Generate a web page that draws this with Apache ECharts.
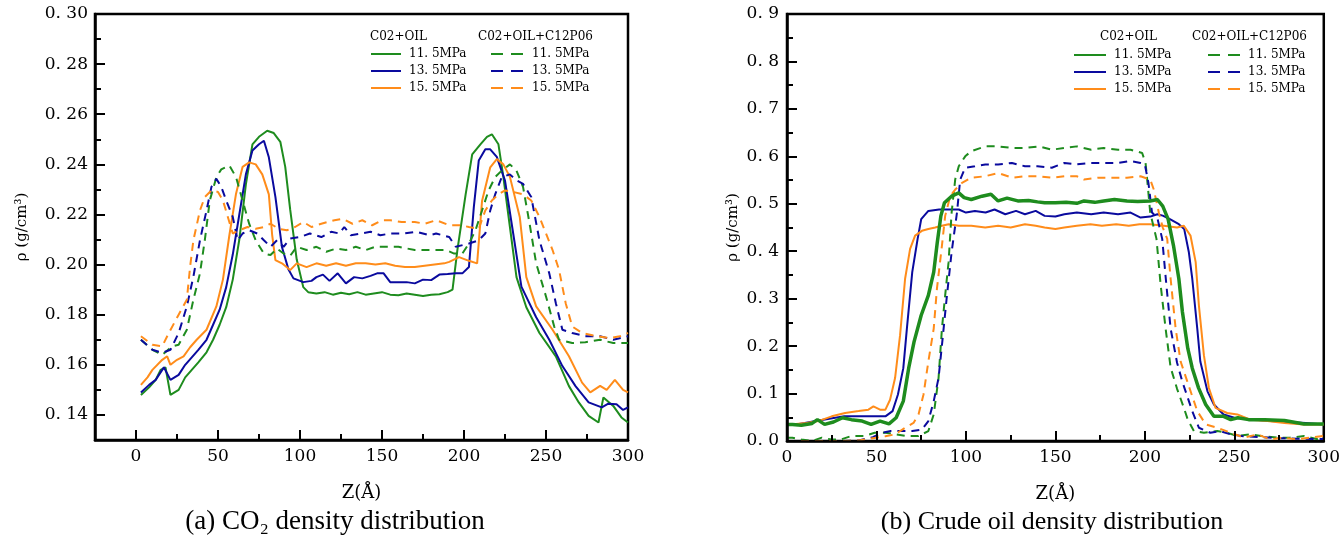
<!DOCTYPE html>
<html><head><meta charset="utf-8">
<script src="https://cdn.jsdelivr.net/npm/echarts@6/dist/echarts.min.js"></script>
<style>html,body{margin:0;padding:0;background:#fff}#c{width:1343px;height:541px}</style>
</head><body><div id="c"></div>
<script>
// ---------- (a) CO2 density, pairs [Z(Å), rho] ----------
const co2Oil115 = [[3,0.148],[8,0.151],[12,0.154],[15,0.158],[18,0.159],[21,0.148],[26,0.150],[30,0.155],[34,0.158],[38,0.161],[43,0.165],[47,0.170],[51,0.176],[55,0.183],[59,0.194],[63,0.210],[67,0.232],[71,0.248],[75,0.251],[80,0.2534],[84,0.2525],[88,0.249],[91,0.239],[94,0.222],[98,0.202],[102,0.191],[105,0.189],[110,0.1885],[115,0.189],[120,0.188],[125,0.1888],[130,0.1882],[135,0.189],[140,0.188],[145,0.1885],[150,0.189],[155,0.188],[160,0.1878],[165,0.1885],[170,0.188],[175,0.1875],[180,0.188],[185,0.1882],[190,0.189],[193,0.190],[196,0.206],[201,0.228],[205,0.244],[210,0.248],[214,0.251],[217,0.252],[221,0.248],[224,0.235],[228,0.215],[232,0.195],[238,0.183],[246,0.1727],[256,0.1634],[264,0.1515],[270,0.145],[276,0.1396],[282,0.137],[285,0.147],[291,0.1436],[296,0.139],[300,0.137]];
const co2Oil135 = [[3,0.149],[8,0.152],[12,0.154],[17,0.159],[21,0.154],[26,0.156],[30,0.160],[34,0.163],[38,0.166],[43,0.170],[47,0.176],[51,0.182],[55,0.191],[59,0.204],[63,0.220],[67,0.236],[71,0.2455],[75,0.248],[78,0.2494],[81,0.2428],[85,0.227],[89,0.207],[93,0.198],[96,0.1945],[102,0.193],[107,0.1935],[110,0.195],[114,0.196],[118,0.1935],[123,0.1965],[128,0.1925],[133,0.195],[138,0.1945],[143,0.1955],[147,0.1965],[151,0.1965],[155,0.193],[160,0.193],[165,0.193],[170,0.1925],[175,0.194],[180,0.1938],[185,0.196],[190,0.1962],[195,0.1965],[199,0.1965],[203,0.199],[206,0.223],[209,0.2415],[213,0.246],[216,0.246],[220,0.243],[225,0.2335],[230,0.2124],[235,0.1912],[244,0.179],[252,0.170],[260,0.1595],[268,0.1515],[276,0.145],[284,0.143],[288,0.1445],[293,0.1443],[297,0.142],[300,0.143]];
const co2Oil155 = [[3,0.152],[7,0.155],[10,0.158],[16,0.162],[19,0.1634],[21,0.160],[25,0.162],[29,0.1634],[33,0.167],[37,0.170],[43,0.174],[49,0.1833],[53,0.194],[57,0.212],[61,0.2283],[65,0.239],[69,0.2408],[73,0.240],[77,0.236],[81,0.228],[83,0.212],[85,0.2018],[89,0.2005],[94,0.1978],[98,0.2005],[104,0.199],[110,0.2005],[116,0.1995],[122,0.2005],[128,0.1995],[134,0.2005],[140,0.2005],[146,0.200],[152,0.2005],[158,0.1995],[164,0.199],[170,0.199],[176,0.1995],[182,0.200],[188,0.2005],[191,0.2011],[197,0.203],[203,0.2015],[208,0.2005],[211,0.2254],[216,0.2388],[220,0.2421],[224,0.240],[228,0.235],[234,0.219],[238,0.195],[244,0.1833],[254,0.174],[264,0.1634],[272,0.1529],[277,0.149],[283,0.1516],[287,0.150],[292,0.154],[297,0.150],[300,0.149]];
const co2Surf115 = [[3,0.170],[10,0.166],[16,0.164],[22,0.1674],[26,0.168],[31,0.174],[35,0.186],[39,0.1965],[42,0.210],[45,0.2256],[49,0.2349],[52,0.238],[57,0.2395],[61,0.2349],[65,0.2256],[69,0.2163],[73,0.2097],[78,0.2044],[82,0.2038],[86,0.2064],[90,0.2044],[94,0.2035],[98,0.2071],[104,0.2058],[110,0.2071],[116,0.2051],[122,0.2064],[128,0.2058],[134,0.2071],[140,0.2058],[146,0.2071],[152,0.2071],[160,0.2071],[170,0.2058],[180,0.2058],[189,0.2058],[194,0.2044],[199,0.2044],[203,0.2084],[207,0.2137],[211,0.2216],[215,0.2296],[219,0.2349],[223,0.2375],[228,0.240],[232,0.2375],[236,0.231],[240,0.2163],[244,0.2005],[250,0.1873],[255,0.1753],[258,0.170],[266,0.1687],[274,0.169],[283,0.170],[291,0.1687],[300,0.1687]];
const co2Surf135 = [[3,0.170],[10,0.166],[16,0.1648],[21,0.166],[26,0.1727],[31,0.1833],[35,0.1952],[39,0.2097],[43,0.2216],[46,0.231],[49,0.2342],[52,0.231],[55,0.2256],[59,0.219],[62,0.2097],[65,0.2124],[69,0.2137],[74,0.2124],[78,0.2097],[82,0.2071],[86,0.2097],[90,0.2071],[94,0.2104],[100,0.211],[106,0.2124],[113,0.211],[119,0.2131],[124,0.2124],[127,0.215],[131,0.2117],[137,0.2124],[143,0.2131],[149,0.2117],[155,0.2124],[163,0.2124],[171,0.2131],[179,0.2117],[183,0.2124],[191,0.211],[195,0.2071],[203,0.2084],[209,0.2097],[213,0.2124],[216,0.2216],[219,0.228],[223,0.2349],[228,0.236],[232,0.2336],[236,0.2322],[241,0.227],[246,0.2097],[252,0.1965],[256,0.1846],[260,0.174],[266,0.1727],[274,0.1714],[283,0.1714],[291,0.170],[300,0.1714]];
const co2Surf155 = [[3,0.1714],[10,0.168],[16,0.1674],[20,0.1727],[26,0.180],[31,0.186],[33,0.1992],[35,0.2097],[39,0.2216],[42,0.227],[46,0.2296],[50,0.229],[53,0.2256],[56,0.219],[59,0.2124],[63,0.2137],[68,0.215],[73,0.2143],[78,0.215],[82,0.2163],[87,0.2143],[92,0.2137],[97,0.215],[102,0.217],[107,0.215],[113,0.2163],[121,0.2177],[126,0.2183],[132,0.2163],[138,0.2177],[144,0.2157],[150,0.2177],[155,0.2177],[162,0.217],[170,0.217],[176,0.2163],[183,0.2177],[191,0.2157],[198,0.2157],[203,0.215],[209,0.2143],[213,0.2216],[217,0.2256],[221,0.228],[225,0.2296],[230,0.229],[236,0.228],[241,0.2256],[246,0.219],[250,0.2124],[254,0.2058],[258,0.1978],[262,0.1846],[266,0.1753],[272,0.1727],[281,0.1714],[289,0.1707],[295,0.1714],[300,0.1727]];

// ---------- (b) Crude oil density ----------
const oil115 = [[0,0.035],[3,0.035],[8,0.033],[14,0.037],[17,0.045],[21,0.035],[26,0.040],[31,0.049],[36,0.045],[42,0.042],[47,0.035],[52,0.042],[57,0.036],[61,0.049],[65,0.084],[68,0.1535],[71,0.209],[75,0.265],[79,0.307],[82,0.356],[84,0.419],[86,0.4745],[88,0.502],[92,0.516],[96,0.523],[99,0.513],[103,0.509],[109,0.516],[114,0.520],[118,0.506],[123,0.512],[129,0.506],[135,0.507],[140,0.504],[144,0.502],[150,0.502],[156,0.503],[162,0.501],[166,0.506],[172,0.503],[177,0.506],[183,0.509],[190,0.506],[196,0.505],[203,0.506],[207,0.509],[210,0.495],[213,0.4675],[216,0.412],[219,0.342],[221,0.272],[224,0.195],[226.5,0.1535],[230,0.112],[234,0.077],[238.6,0.052],[244,0.052],[248,0.045],[252,0.049],[258,0.045],[267,0.045],[278,0.043],[289,0.036],[300,0.036]];
const oil135 = [[0,0.035],[5,0.035],[10,0.038],[16,0.042],[22,0.046],[27,0.049],[32,0.052],[40,0.052],[47,0.052],[55,0.052],[59,0.063],[62,0.098],[65,0.1535],[67,0.237],[70,0.356],[73,0.426],[75,0.4675],[79,0.485],[85,0.488],[90,0.488],[96,0.488],[100,0.4815],[105,0.485],[111,0.4815],[116,0.488],[122,0.478],[128,0.485],[133,0.478],[139,0.485],[144,0.4745],[150,0.473],[155,0.478],[162,0.4815],[170,0.478],[177,0.4815],[185,0.478],[192,0.4815],[197.6,0.471],[203,0.473],[207,0.478],[210,0.475],[214,0.4675],[219,0.457],[222,0.4466],[224.6,0.3977],[226.5,0.342],[229.3,0.237],[231,0.1675],[235,0.1047],[238.6,0.077],[244,0.056],[250,0.049],[256,0.047],[262,0.045],[270,0.042],[280,0.040],[290,0.038],[300,0.035]];
const oil155 = [[0,0.035],[5,0.036],[11,0.038],[17.5,0.042],[25,0.052],[32.5,0.059],[40,0.063],[45.5,0.066],[48.3,0.073],[52,0.066],[55,0.066],[57.6,0.087],[60.4,0.1326],[63.2,0.223],[66,0.342],[68.8,0.405],[71.6,0.433],[75.4,0.443],[79,0.447],[82.8,0.450],[86.6,0.4536],[90.3,0.457],[96,0.4536],[103,0.4536],[110.8,0.450],[118,0.4536],[125,0.450],[133,0.457],[139,0.4536],[144,0.450],[150,0.447],[155,0.450],[162,0.4536],[169.6,0.457],[176,0.4536],[184,0.457],[191,0.4536],[197,0.457],[203,0.457],[210.6,0.4536],[218,0.450],[221.8,0.4536],[225.5,0.433],[228.4,0.377],[230.2,0.286],[233,0.181],[235.8,0.1117],[239.5,0.0698],[246,0.059],[251.7,0.056],[259,0.045],[268.5,0.042],[278,0.038],[289,0.035],[300,0.035]];
const oilSurf115 = [[0,0.007],[3,0.007],[8,0.003],[14,0.0],[19.4,0.007],[25,0.003],[30,0.003],[36,0.0105],[43,0.0105],[49,0.0174],[55,0.0174],[61,0.014],[67,0.0105],[73.5,0.0105],[79,0.021],[82,0.056],[84.7,0.1326],[86.6,0.237],[88.4,0.307],[90.3,0.377],[92,0.4815],[94,0.551],[96,0.579],[99.6,0.600],[103,0.611],[110.8,0.621],[118,0.621],[125.7,0.6176],[133,0.6176],[140.7,0.621],[148,0.614],[155,0.6176],[162,0.621],[170,0.614],[177,0.6176],[185,0.614],[192,0.614],[198.5,0.607],[200.4,0.586],[201.3,0.551],[203,0.4815],[206.5,0.426],[208.8,0.33],[211.6,0.237],[214.4,0.155],[218,0.11],[221.8,0.07],[224,0.045],[227.4,0.021],[233,0.0174],[240.5,0.021],[246,0.0174],[251.7,0.0105],[259,0.014],[265,0.0105],[274,0.007],[281,0.007],[289,0.0105],[296.5,0.0035],[300,0.005]];
const oilSurf135 = [[0,0.0],[10,0.0],[20,0.0],[30,0.0],[40,0.001],[48,0.008],[53,0.0174],[58,0.021],[64,0.021],[70,0.021],[75.4,0.024],[79,0.042],[82,0.084],[84.7,0.1326],[86.6,0.202],[89.4,0.307],[92,0.398],[95,0.4815],[96.8,0.551],[99.6,0.576],[105,0.579],[110.8,0.583],[118,0.583],[125.7,0.586],[133,0.579],[140,0.579],[148,0.576],[155,0.586],[162,0.583],[170,0.586],[177,0.586],[185,0.586],[192,0.59],[197.6,0.586],[200,0.583],[202,0.544],[204,0.4815],[207,0.47],[209.7,0.426],[212,0.33],[214.4,0.237],[218,0.165],[220.9,0.1256],[226.5,0.063],[230.2,0.028],[236.6,0.0174],[242,0.021],[248,0.014],[255,0.010],[265,0.008],[275,0.006],[285,0.005],[300,0.004]];
const oilSurf155 = [[0,0.0],[10,0.0],[20,0.0],[30,0.0],[40,0.001],[48,0.006],[55,0.010],[60.4,0.014],[66,0.028],[70.7,0.038],[73.5,0.056],[76.3,0.098],[79,0.1675],[82,0.237],[83.8,0.321],[86.6,0.412],[88.4,0.4745],[91.2,0.516],[94,0.530],[97.8,0.544],[103,0.555],[110.8,0.558],[118,0.565],[125.7,0.555],[133,0.558],[140.7,0.558],[148,0.555],[155,0.558],[162,0.558],[166,0.551],[174,0.555],[181,0.555],[190,0.555],[197.6,0.558],[203,0.551],[205,0.530],[207.8,0.4815],[210,0.45],[212.5,0.426],[214.4,0.342],[217.2,0.237],[220,0.1675],[223.7,0.1256],[229.3,0.063],[234,0.035],[240.5,0.028],[248,0.0174],[255.4,0.007],[263,0.014],[270,0.0035],[277,0.007],[285,0.0035],[292,0.007],[300,0.0105]];

// ---------- ticks / labels ----------
const xMajorA = [0,50,100,150,200,250,300];
const xMinorA = [25,75,125,175,225,275];
const yMajorA = [0.14,0.16,0.18,0.20,0.22,0.24,0.26,0.28,0.30];
const yMinorA = [0.15,0.17,0.19,0.21,0.23,0.25,0.27,0.29];
const pressureLabels = ['11. 5MPa','13. 5MPa','15. 5MPa'];
const groupLabels = ['C02+OIL','C02+OIL+C12P06'];
const captions = ['(a) CO\u2082 density distribution','(b) Crude oil density distribution'];

const GREEN='#1E8C1E', BLUE='#0A0A9E', ORANGE='#FF8C1A';
const NUMFONT='DejaVu Serif';
const DASH=[8,6];
const MAJ=10, MIN=6;

const labelMap = {};
function mk(name, data, xi, yi, color, width, dashed, label){
  labelMap[name]=label;
  return {name, type:'line', xAxisIndex:xi, yAxisIndex:yi, data, symbol:'none', showSymbol:false,
    animation:false, silent:true, color,
    lineStyle:{color, width, type: dashed?DASH:'solid'}, itemStyle:{color}};
}
const series = [
  mk('a_s115',co2Oil115,0,0,GREEN,2,false,pressureLabels[0]),
  mk('a_s135',co2Oil135,0,0,BLUE,2,false,pressureLabels[1]),
  mk('a_s155',co2Oil155,0,0,ORANGE,2,false,pressureLabels[2]),
  mk('a_d115',co2Surf115,0,0,GREEN,2,true,pressureLabels[0]),
  mk('a_d135',co2Surf135,0,0,BLUE,2,true,pressureLabels[1]),
  mk('a_d155',co2Surf155,0,0,ORANGE,2,true,pressureLabels[2]),
  mk('b_s135',oil135,2,2,BLUE,2,false,pressureLabels[1]),
  mk('b_s155',oil155,2,2,ORANGE,2,false,pressureLabels[2]),
  mk('b_d115',oilSurf115,2,2,GREEN,2,true,pressureLabels[0]),
  mk('b_d135',oilSurf135,2,2,BLUE,2,true,pressureLabels[1]),
  mk('b_d155',oilSurf155,2,2,ORANGE,2,true,pressureLabels[2]),
  mk('b_s115',oil115,2,2,GREEN,3.5,false,pressureLabels[0])
];

const axisLineS = {show:true, onZero:false, lineStyle:{color:'#000', width:2.5}};
const tickS = (len, vals) => ({show:true, inside:true, length:len, lineStyle:{color:'#000', width:2}, customValues: vals});
const labS = {color:'#000', fontFamily:NUMFONT, fontSize:17};
const nameS = {color:'#000', fontFamily:NUMFONT, fontSize:18};
const yNameS = {color:'#000', fontFamily:NUMFONT, fontSize:15};

function legend(names, left, top, iw, dashed){
  const l = {data:names, orient:'vertical', left, top, padding:0, itemWidth:iw, itemHeight:12, itemGap:5,
    selectedMode:false, formatter:n=>labelMap[n],
    itemStyle:{color:'rgba(0,0,0,0)', borderColor:'rgba(0,0,0,0)', borderWidth:0, opacity:0},
    textStyle:{color:'#000', fontFamily:NUMFONT, fontSize:12, padding:[0,0,0,3]}};
  if (dashed) l.lineStyle = {type:[12,8]};
  return l;
}

const option = {
  backgroundColor:'#fff',
  animation:false,
  grid:[
    {left:95, right:715, top:14, bottom:101, show:true, borderColor:'#000', borderWidth:2.5, containLabel:false},
    {left:787, right:18, top:14, bottom:100, show:true, borderColor:'#000', borderWidth:2.5, containLabel:false}
  ],
  xAxis:[
    {gridIndex:0, type:'value', min:-25, max:300, interval:25, position:'bottom', z:10,
     axisLine:axisLineS, axisTick:tickS(MAJ,xMajorA), splitLine:{show:false},
     axisLabel:Object.assign({customValues:xMajorA, margin:8}, labS),
     name:'Z(\u00C5)', nameLocation:'middle', nameGap:44, nameTextStyle:nameS},
    {gridIndex:0, type:'value', min:-25, max:300, interval:25, position:'bottom', z:10,
     axisLine:{show:false, onZero:false}, axisTick:tickS(MIN,xMinorA), splitLine:{show:false}, axisLabel:{show:false}},
    {gridIndex:1, type:'value', min:0, max:300, interval:50, position:'bottom', z:10,
     axisLine:axisLineS, axisTick:{show:true, inside:true, length:MAJ, lineStyle:{color:'#000', width:2}},
     minorTick:{show:true, splitNumber:2, length:MIN, lineStyle:{color:'#000', width:2}},
     splitLine:{show:false}, axisLabel:Object.assign({margin:8}, labS),
     name:'Z(\u00C5)', nameLocation:'middle', nameGap:44, nameTextStyle:nameS}
  ],
  yAxis:[
    {gridIndex:0, type:'value', min:0.13, max:0.30, interval:0.01, position:'left', z:10,
     axisLine:axisLineS, axisTick:tickS(MAJ,yMajorA), splitLine:{show:false},
     axisLabel:Object.assign({customValues:yMajorA, margin:7, formatter:v=>v.toFixed(2).replace('.', '. ')}, labS),
     name:'\u03C1 (g/cm\u00B3)', nameLocation:'middle', nameGap:65, nameTextStyle:yNameS},
    {gridIndex:0, type:'value', min:0.13, max:0.30, interval:0.01, position:'left', z:10,
     axisLine:{show:false, onZero:false}, axisTick:tickS(MIN,yMinorA), splitLine:{show:false}, axisLabel:{show:false}},
    {gridIndex:1, type:'value', min:0, max:0.9, interval:0.1, position:'left', z:10,
     axisLine:axisLineS, axisTick:{show:true, inside:true, length:MAJ, lineStyle:{color:'#000', width:2}},
     minorTick:{show:true, splitNumber:2, length:MIN, lineStyle:{color:'#000', width:2}},
     splitLine:{show:false},
     axisLabel:Object.assign({margin:8, formatter:v=>v.toFixed(1).replace('.', '. ')}, labS),
     name:'\u03C1 (g/cm\u00B3)', nameLocation:'middle', nameGap:46, nameTextStyle:yNameS}
  ],
  legend:[
    legend(['a_s115','a_s135','a_s155'], 370, 48, 30, false),
    legend(['a_d115','a_d135','a_d155'], 490, 48, 33, true),
    legend(['b_s115','b_s135','b_s155'], 1073, 49, 32, false),
    legend(['b_d115','b_d135','b_d155'], 1207, 49, 32, true)
  ],
  graphic:[
    {type:'text', x:370, y:37, style:{text:groupLabels[0], font:'12px "DejaVu Serif"', fill:'#000', verticalAlign:'middle'}},
    {type:'text', x:478, y:37, style:{text:groupLabels[1], font:'12px "DejaVu Serif"', fill:'#000', verticalAlign:'middle'}},
    {type:'text', x:1100, y:37, style:{text:groupLabels[0], font:'12px "DejaVu Serif"', fill:'#000', verticalAlign:'middle'}},
    {type:'text', x:1192, y:37, style:{text:groupLabels[1], font:'12px "DejaVu Serif"', fill:'#000', verticalAlign:'middle'}},
    {type:'text', x:335, y:522, style:{text:captions[0], font:'27px "Liberation Serif"', fill:'#000', align:'center', verticalAlign:'middle'}},
    {type:'text', x:1052, y:522, style:{text:captions[1], font:'26px "Liberation Serif"', fill:'#000', align:'center', verticalAlign:'middle'}}
  ],
  series
};
const chart = echarts.init(document.getElementById('c'), null, {renderer:'canvas'});
chart.setOption(option);
</script>
</body></html>
